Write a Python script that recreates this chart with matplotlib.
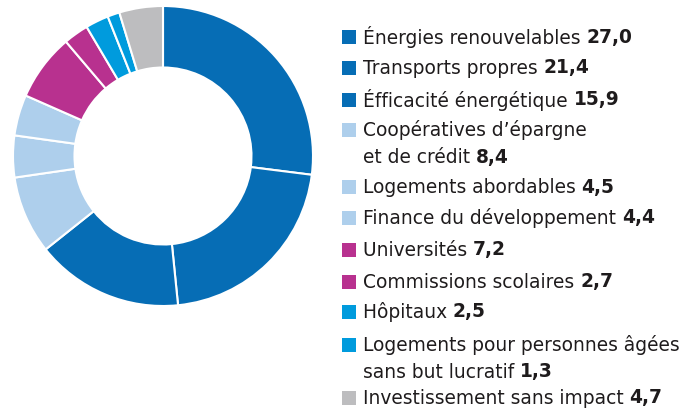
import matplotlib
matplotlib.use("Agg")
import matplotlib.pyplot as plt
from matplotlib.patches import Rectangle

labels = [
    "Énergies renouvelables", "Transports propres", "Éfficacité énergétique",
    "Coopératives d’épargne\net de crédit", "Logements abordables",
    "Finance du développement", "Universités", "Commissions scolaires",
    "Hôpitaux", "Logements pour personnes âgées\nsans but lucratif",
    "Investissement sans impact",
]
values = [27.0, 21.4, 15.9, 8.4, 4.5, 4.4, 7.2, 2.7, 2.5, 1.3, 4.7]
value_labels = ["27,0", "21,4", "15,9", "8,4", "4,5", "4,4", "7,2", "2,7", "2,5", "1,3", "4,7"]

DARK = "#066db5"
LIGHT = "#aecfec"
MAG = "#b8318f"
CYAN = "#009bdd"
GREY = "#bdbdbf"
colors = [DARK, DARK, DARK, LIGHT, LIGHT, LIGHT, MAG, MAG, CYAN, CYAN, GREY]

W, H = 690, 409
fig = plt.figure(figsize=(W / 100, H / 100), dpi=100)

cx, cy, r = 163, 156, 150
ax = fig.add_axes([(cx - r) / W, (H - cy - r) / H, 2 * r / W, 2 * r / H])
ax.pie(values, colors=colors, startangle=90, counterclock=False, radius=1.0,
       wedgeprops=dict(width=0.41, edgecolor="white", linewidth=1.5))
ax.set_xlim(-1, 1)
ax.set_ylim(-1, 1)
ax.set_aspect("equal")
ax.axis("off")

row_y = [37, 68, 100, 130, 187, 218, 250, 282, 312, 345, 398]
line_gap = 27
sq_x, sq = 342, 14
tx = 363
fs = 13.4
tcolor = "#1e1b1c"
fig.canvas.draw()
renderer = fig.canvas.get_renderer()
for lab, val, col, y in zip(labels, value_labels, colors, row_y):
    fig.patches.append(Rectangle((sq_x / W, (H - y - sq / 2) / H), sq / W, sq / H,
                                 transform=fig.transFigure, facecolor=col, edgecolor="none"))
    lines = lab.split("\n")
    for i, line in enumerate(lines):
        yy = y + i * line_gap
        t = fig.text(tx / W, (H - yy) / H, line + " ", fontsize=fs, color=tcolor,
                     va="center", ha="left", family="DejaVu Sans")
        if i == len(lines) - 1:
            bb = t.get_window_extent(renderer)
            fig.text(bb.x1 / W, (H - yy) / H, val, fontsize=fs, color=tcolor,
                     va="center", ha="left", fontweight="bold", family="DejaVu Sans")

fig.savefig("out.png", dpi=100, facecolor="white")
